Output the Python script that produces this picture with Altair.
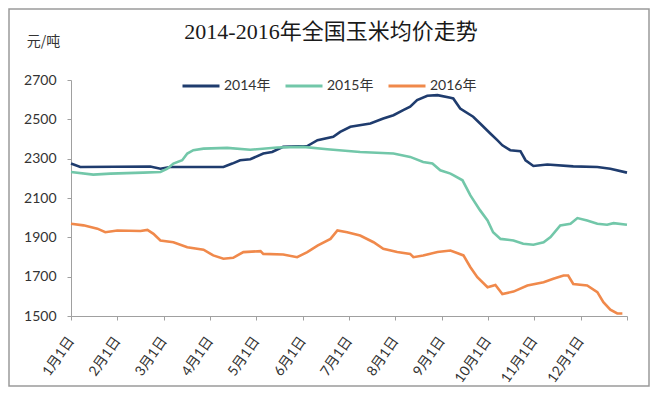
import altair as alt
import pandas as pd

# ---- data ----
series_names = ["2014年", "2015年", "2016年"]
series_colors = ["#1F3C6E", "#72C7A9", "#F0894B"]
month_labels = ["1月1日", "2月1日", "3月1日", "4月1日", "5月1日", "6月1日",
                "7月1日", "8月1日", "9月1日", "10月1日", "11月1日", "12月1日"]
y_ticks = [1500, 1700, 1900, 2100, 2300, 2500, 2700]

# position in months since 1月1日 (0..12)
pos_2014 = [0, 0.20, 1.71, 1.93, 2.14, 3.29, 3.48, 3.65, 3.87, 4.15, 4.34, 4.58,
            5.10, 5.32, 5.66, 5.81, 6.03, 6.46, 6.74, 6.96, 7.17, 7.32, 7.47,
            7.69, 7.91, 8.19, 8.25, 8.40, 8.68, 8.83, 9.05, 9.20, 9.31, 9.48,
            9.70, 9.81, 9.98, 10.28, 10.84, 11.36, 11.64, 12.0]
price_2014 = [2275, 2258, 2260, 2249, 2258, 2258, 2275, 2292, 2297, 2326, 2334, 2360,
              2364, 2394, 2411, 2436, 2462, 2479, 2504, 2521, 2547, 2564, 2598,
              2620, 2623, 2610, 2606, 2555, 2513, 2479, 2428, 2394, 2368, 2343,
              2338, 2292, 2263, 2270, 2261, 2258, 2249, 2229]

pos_2015 = [0, 0.48, 0.85, 1.56, 1.93, 2.08, 2.21, 2.40, 2.51, 2.64, 2.86, 3.37,
            3.87, 4.45, 5.01, 5.53, 6.24, 6.96, 7.32, 7.60, 7.80, 7.97, 8.19,
            8.25, 8.45, 8.62, 8.83, 8.99, 9.11, 9.27, 9.55, 9.76, 9.98, 10.20,
            10.35, 10.56, 10.78, 10.93, 11.14, 11.36, 11.57, 11.71, 12.0]
price_2015 = [2232, 2219, 2224, 2229, 2232, 2249, 2275, 2292, 2326, 2343, 2351, 2355,
              2345, 2357, 2360, 2348, 2334, 2326, 2309, 2283, 2275, 2241, 2224,
              2216, 2190, 2113, 2037, 1986, 1926, 1892, 1884, 1867, 1862, 1875,
              1901, 1960, 1969, 1998, 1986, 1969, 1964, 1972, 1964]

pos_2016 = [0, 0.27, 0.57, 0.74, 1.00, 1.50, 1.65, 1.78, 1.93, 2.21, 2.51, 2.86,
            3.07, 3.29, 3.50, 3.72, 4.09, 4.15, 4.58, 4.88, 5.10, 5.32, 5.60,
            5.75, 5.96, 6.24, 6.53, 6.74, 7.04, 7.32, 7.39, 7.60, 7.91, 8.19,
            8.47, 8.62, 8.77, 8.99, 9.16, 9.31, 9.55, 9.85, 10.20, 10.41, 10.63,
            10.73, 10.84, 11.14, 11.36, 11.49, 11.64, 11.79, 11.90]
price_2016 = [1969, 1961, 1944, 1926, 1935, 1932, 1938, 1918, 1884, 1875, 1850, 1837,
              1808, 1791, 1796, 1825, 1830, 1816, 1813, 1799, 1825, 1858, 1892,
              1935, 1926, 1909, 1875, 1842, 1825, 1816, 1799, 1808, 1825, 1833,
              1808, 1748, 1697, 1646, 1658, 1612, 1624, 1655, 1672, 1689, 1706,
              1706, 1663, 1655, 1621, 1570, 1532, 1513, 1513]

rows = []
for name, ps, vs in zip(series_names,
                        [pos_2014, pos_2015, pos_2016],
                        [price_2014, price_2015, price_2016]):
    for i, (p, v) in enumerate(zip(ps, vs)):
        rows.append({"series": name, "pos": p, "price": v, "idx": i})
df = pd.DataFrame(rows)

label_array = "[" + ",".join("'" + s + "'" for s in month_labels) + "]"
x_label_expr = f"datum.value < 12 ? {label_array}[datum.value] : ''"

W, H = 556, 236

lines = alt.Chart(df).mark_line(strokeWidth=2.6).encode(
    x=alt.X("pos:Q",
            scale=alt.Scale(domain=[0, 12], nice=False, zero=False),
            axis=alt.Axis(values=list(range(13)), labelExpr=x_label_expr,
                          title=None, grid=False, labelAngle=-55,
                          labelAlign="right", labelBaseline="middle",
                          labelPadding=18, tickSize=4, labelOverlap=False,
                          labelFlush=False, labelFont="Lato, Noto Sans CJK SC",
                          labelFontSize=14, labelColor="#333333",
                          domainColor="#A0A0A0", tickColor="#A0A0A0")),
    y=alt.Y("price:Q",
            scale=alt.Scale(domain=[1500, 2700], nice=False, zero=False),
            axis=alt.Axis(values=y_ticks, format="d", title="元/吨", titleAngle=0,
                          titleX=-28, titleY=-39, titleAlign="center",
                          titleBaseline="middle", titleFont="Noto Sans CJK SC",
                          titleFontSize=14, titleFontWeight="normal",
                          titleColor="#333333", grid=False, tickSize=4,
                          labelPadding=11, labelFont="Lato", labelFontSize=14,
                          labelColor="#333333", domainColor="#A0A0A0",
                          tickColor="#A0A0A0")),
    color=alt.Color("series:N",
                    scale=alt.Scale(domain=series_names, range=series_colors),
                    legend=alt.Legend(title=None, orient="none",
                                      direction="horizontal", legendX=110,
                                      legendY=-14, symbolType="stroke",
                                      symbolSize=1369, symbolStrokeWidth=3,
                                      labelFont="Lato, Noto Sans CJK SC",
                                      labelFontSize=14, labelOffset=3,
                                      columnPadding=8, labelColor="#333333")),
    order="idx:Q",
)

frame = alt.Chart(pd.DataFrame({"k": [0]})).mark_rect(
    fill="transparent", stroke="#9A9A9A", strokeWidth=1.5
).encode(
    x=alt.value(-62), x2=alt.value(578), y=alt.value(-71), y2=alt.value(306)
)

chart = alt.layer(frame, lines).properties(
    width=W, height=H,
    title=alt.TitleParams("2014-2016年全国玉米均价走势",
                          font="Liberation Serif, Noto Sans CJK SC",
                          fontSize=22, fontWeight="normal", color="#1A1A1A",
                          anchor="middle", frame="group", dx=-18, offset=-36),
    autosize=alt.AutoSizeParams(type="none"),
    padding={"left": 63, "top": 72, "right": 24, "bottom": 72},
    background="white",
).configure_view(stroke=None)

chart.save("out.html", embed_options={"renderer": "svg", "actions": False})
